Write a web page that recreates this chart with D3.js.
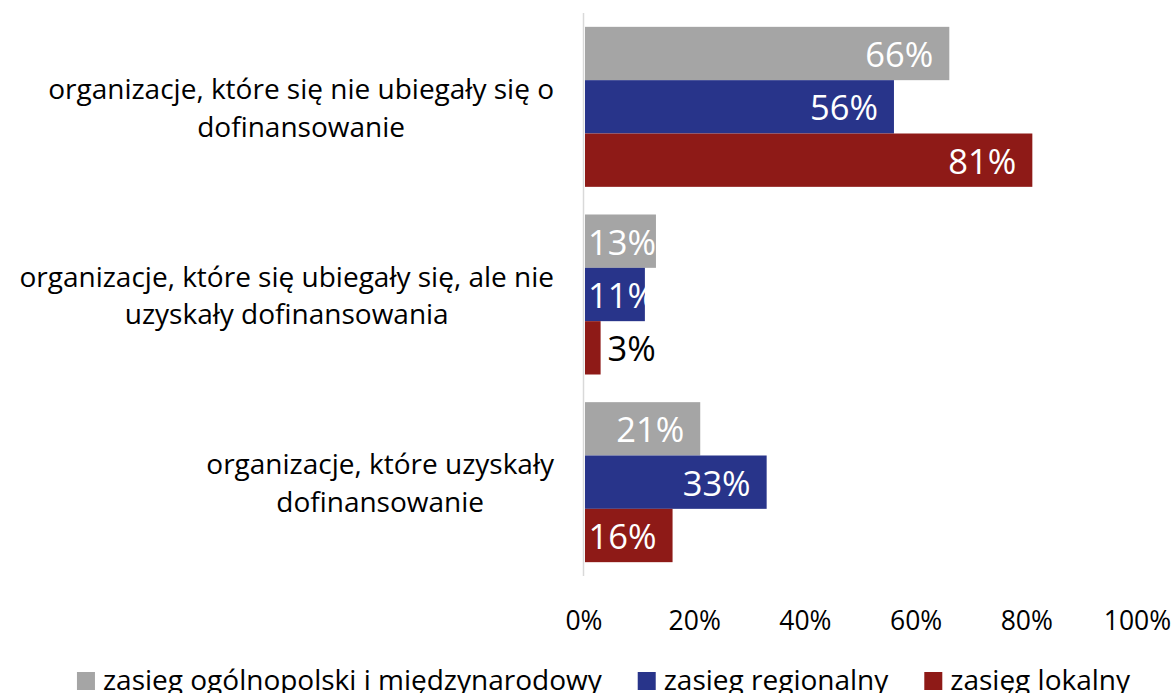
<!DOCTYPE html>
<html lang="pl">
<head>
<meta charset="utf-8">
<script src="https://cdn.jsdelivr.net/npm/d3@7"></script>
<style>
  html, body { margin: 0; padding: 0; background: #ffffff; }
  svg { display: block; font-family: "Open Sans", Lato, sans-serif; }
</style>
</head>
<body>
<svg id="chart" width="1176" height="693"></svg>
<script>
// Category labels, each split into its display lines
const categories = [
  "organizacje, które się nie ubiegały się o dofinansowanie",
  "organizacje, które się ubiegały się, ale nie uzyskały dofinansowania",
  "organizacje, które uzyskały dofinansowanie"
];
const categoryLines = [
  ["organizacje, które się nie ubiegały się o", "dofinansowanie"],
  ["organizacje, które się ubiegały się, ale nie", "uzyskały dofinansowania"],
  ["organizacje, które uzyskały", "dofinansowanie"]
];

// Series (percent of organisations)
const seriesNames = [
  "zasieg ogólnopolski i międzynarodowy",
  "zasieg regionalny",
  "zasięg lokalny"
];
const ogolnopolski = [66, 13, 21];
const regionalny   = [56, 11, 33];
const lokalny      = [81, 3, 16];
const seriesValues = [ogolnopolski, regionalny, lokalny];
const seriesColors = ["#a5a5a5", "#28348a", "#8e1a17"];

const xTicks = [0, 20, 40, 60, 80, 100];

const svg = d3.select("#chart");

// Plot geometry
const x0 = 584, x1 = 1137.5, yTop = 13, yBottom = 576;

const x = d3.scaleLinear().domain([0, 100]).range([x0, x1]);
const y = d3.scaleBand().domain(d3.range(categories.length))
  .range([yTop, yBottom]).paddingInner(0.1474).paddingOuter(0.0737);
const ySub = d3.scaleBand().domain(d3.range(seriesNames.length))
  .range([0, y.bandwidth()]);

// Vertical category axis line
svg.append("line")
  .attr("x1", x(0) - 0.5).attr("x2", x(0) - 0.5)
  .attr("y1", yTop).attr("y2", yBottom)
  .attr("stroke", "#d9d9d9").attr("stroke-width", 1.5);

// Bars
const rows = [];
categories.forEach((c, ci) => {
  seriesValues.forEach((vals, si) => {
    rows.push({ ci, si, v: vals[ci] });
  });
});

const g = svg.append("g");
g.selectAll("rect.bar").data(rows).join("rect")
  .attr("class", "bar")
  .attr("x", x(0) + 1)
  .attr("y", d => y(d.ci) + ySub(d.si))
  .attr("width", d => x(d.v) - x(0) - 1)
  .attr("height", ySub.bandwidth())
  .attr("fill", d => seriesColors[d.si]);

// Value labels: inside the bar end when they fit, otherwise outside
const labels = g.selectAll("text.val").data(rows).join("text")
  .attr("class", "val")
  .attr("font-size", 34.5)
  .attr("dominant-baseline", "central")
  .attr("y", d => y(d.ci) + ySub(d.si) + ySub.bandwidth() / 2)
  .text(d => d.v + "%");

labels.each(function(d) {
  const t = d3.select(this);
  const tw = this.getComputedTextLength();
  const start = x(0), end = x(d.v);
  const bw = end - start;
  if (bw >= tw * 0.6) {
    const lx = Math.max(end - 16 - tw, start + 4);
    t.attr("x", lx).attr("fill", "#ffffff");
  } else {
    t.attr("x", end + 7).attr("fill", "#000000");
  }
});

// X axis tick labels
svg.append("g").selectAll("text").data(xTicks).join("text")
  .attr("x", d => x(d))
  .attr("y", 630)
  .attr("text-anchor", "middle")
  .attr("font-size", 26.5)
  .attr("fill", "#000")
  .text(d => d + "%");

// Category labels: lines centred within a block that is right-aligned to the axis
const labelRight = 554;
const catG = svg.append("g");
categoryLines.forEach((lines, ci) => {
  const cy = y(ci) + y.bandwidth() / 2;
  const lh = 37.5;
  const texts = lines.map((ln, li) => catG.append("text")
    .attr("font-size", 28)
    .attr("fill", "#000")
    .attr("dominant-baseline", "central")
    .attr("text-anchor", "middle")
    .attr("y", cy + (li - (lines.length - 1) / 2) * lh)
    .text(ln));
  const w = d3.max(texts, t => t.node().getComputedTextLength());
  texts.forEach(t => t.attr("x", labelRight - w / 2));
});

// Legend, centred under the plot
const legend = svg.append("g");
const sq = 18, gapSq = 8, gapItem = 36;
const items = seriesNames.map((name, i) => {
  const it = legend.append("g");
  it.append("rect").attr("width", sq).attr("height", sq)
    .attr("y", 672).attr("fill", seriesColors[i]);
  const t = it.append("text").attr("x", sq + gapSq).attr("y", 690)
    .attr("font-size", 28).attr("fill", "#000").text(name);
  return { it, w: sq + gapSq + t.node().getComputedTextLength() };
});
const total = d3.sum(items, d => d.w) + gapItem * (items.length - 1);
let lx = 603.5 - total / 2;
items.forEach(d => { d.it.attr("transform", `translate(${lx},0)`); lx += d.w + gapItem; });
</script>
</body>
</html>
